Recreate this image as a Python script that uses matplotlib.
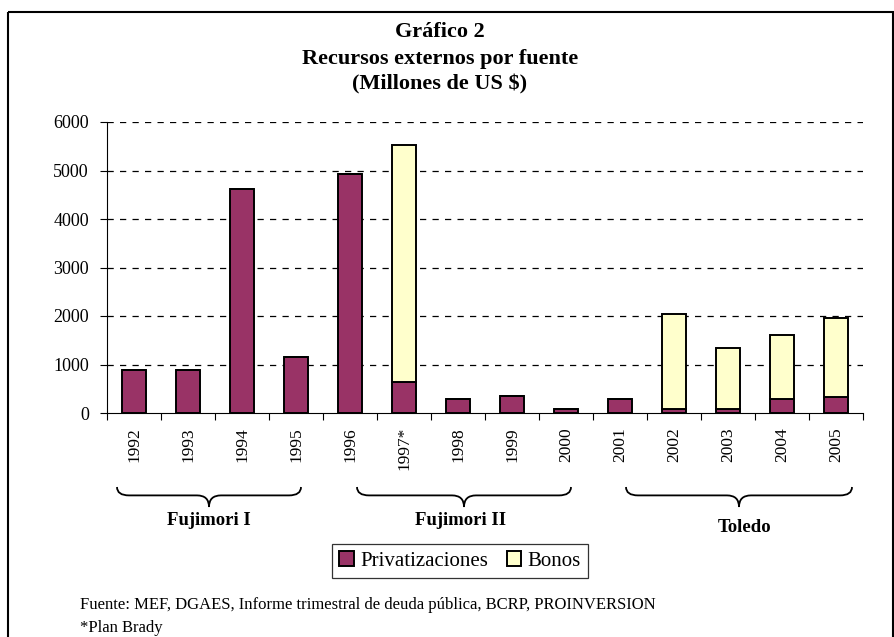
import matplotlib
matplotlib.use("Agg")
import matplotlib.pyplot as plt
from matplotlib.path import Path
from matplotlib.patches import PathPatch, Rectangle
import numpy as np

years = ["1992", "1993", "1994", "1995", "1996", "1997*", "1998", "1999",
         "2000", "2001", "2002", "2003", "2004", "2005"]
privatizaciones = [890, 890, 4610, 1160, 4930, 630, 280, 350, 90, 280, 90, 90, 290, 320]
bonos = [0, 0, 0, 0, 0, 4895, 0, 0, 0, 0, 1945, 1260, 1315, 1640]
yticks = [0, 1000, 2000, 3000, 4000, 5000, 6000]
periods = ["Fujimori I", "Fujimori II", "Toledo"]
title_lines = ["Gráfico 2", "Recursos externos por fuente", "(Millones de US $)"]
source_note = "Fuente: MEF, DGAES, Informe trimestral de deuda pública, BCRP, PROINVERSION"
brady_note = "*Plan Brady"

plt.rcParams['font.family'] = ['Liberation Serif', 'DejaVu Serif']

W, H = 895, 637
fig = plt.figure(figsize=(W / 100, H / 100), dpi=100)
fig.patch.set_facecolor("white")

x0p, x1p, ytopp, ybotp = 107, 863, 122, 413
ax = fig.add_axes([x0p / W, 1 - ybotp / H, (x1p - x0p) / W, (ybotp - ytopp) / H])

x = np.arange(len(years))
bw = 0.44
c_priv = "#993366"
c_bon = "#FFFFCC"
ax.bar(x, privatizaciones, bw, color=c_priv, edgecolor="black", linewidth=1.4,
       label="Privatizaciones", zorder=3)
ax.bar(x, bonos, bw, bottom=privatizaciones, color=c_bon, edgecolor="black",
       linewidth=1.4, label="Bonos", zorder=3)

ax.set_xlim(-0.5, len(years) - 0.5)
ax.set_ylim(0, 6000)
ax.set_yticks(yticks)
ax.set_yticklabels([str(v) for v in yticks], fontsize=13)
for v in yticks[1:]:
    ax.axhline(v, color="black", linestyle=(0, (5, 5)), linewidth=0.9, zorder=1)

ax.set_xticks(x)
ax.set_xticklabels(years, rotation=90, fontsize=12.5)
ax.tick_params(axis="x", which="major", length=0, pad=10)
ax.set_xticks(np.arange(-0.5, len(years), 1.0), minor=True)
ax.tick_params(axis="x", which="minor", length=5, direction="out", width=0.8)
ax.tick_params(axis="y", length=5, direction="out", width=0.8, pad=8)
for s in ["top", "right"]:
    ax.spines[s].set_visible(False)
for s in ["left", "bottom"]:
    ax.spines[s].set_linewidth(0.8)

# overlay in pixel coords for frame, title, braces, notes
ov = fig.add_axes([0, 0, 1, 1], zorder=-1)
ov.set_xlim(0, W)
ov.set_ylim(H, 0)
ov.axis("off")
ov.add_patch(Rectangle((8, 12), 885, 700, fill=False, edgecolor="black",
                       linewidth=1.5, clip_on=False))

for t, yy in zip(title_lines, [37, 64, 89]):
    ov.text(440, yy, t, ha="center", va="baseline", fontsize=16, fontweight="bold")

ov2 = fig.add_axes([0, 0, 1, 1], zorder=5)
ov2.set_xlim(0, W)
ov2.set_ylim(H, 0)
ov2.axis("off")
ov2.patch.set_alpha(0)


def brace(a, b, ytop, ytip, r=12):
    xm = (a + b) / 2
    ym = ytop + (ytip - ytop) * 0.42
    verts = [(a, ytop), (a, ym), (a + r, ym), (xm - r, ym), (xm, ym), (xm, ytip),
             (xm, ym), (xm + r, ym), (b - r, ym), (b, ym), (b, ytop)]
    codes = [Path.MOVETO, Path.CURVE3, Path.CURVE3, Path.LINETO, Path.CURVE3, Path.CURVE3,
             Path.CURVE3, Path.CURVE3, Path.LINETO, Path.CURVE3, Path.CURVE3]
    ov2.add_patch(PathPatch(Path(verts, codes), fill=False, edgecolor="black",
                            linewidth=1.3))


brace(117, 301, 487, 507)
brace(357, 571, 487, 507)
brace(626, 852, 487, 507)
ov2.text(209, 525, periods[0], ha="center", va="baseline", fontsize=13.5, fontweight="bold")
ov2.text(461, 525, periods[1], ha="center", va="baseline", fontsize=13.5, fontweight="bold")
ov2.text(745, 532, periods[2], ha="center", va="baseline", fontsize=13.5, fontweight="bold")

ov2.text(80, 605, source_note, ha="left", va="center", fontsize=12)
ov2.text(80, 628, brady_note, ha="left", va="center", fontsize=12)

leg = ax.legend(loc="center", bbox_to_anchor=(460 / W, 1 - 561 / H),
                bbox_transform=fig.transFigure, ncol=2, fontsize=15,
                frameon=True, fancybox=False, edgecolor="black",
                handlelength=0.7, handleheight=0.7, handletextpad=0.3,
                columnspacing=0.9, borderpad=0.35)
leg.get_frame().set_linewidth(0.9)

fig.savefig("out.png", dpi=100, facecolor="white")
